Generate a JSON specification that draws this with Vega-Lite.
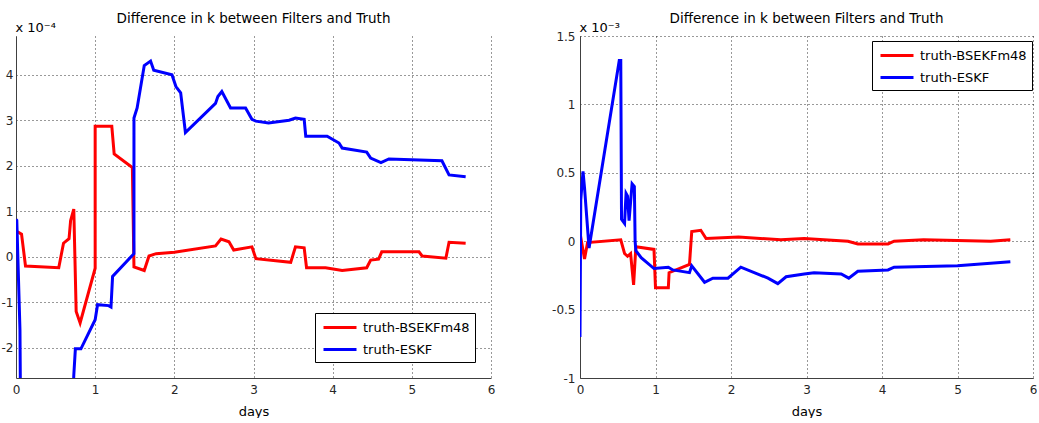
{
  "$schema": "https://vega.github.io/schema/vega-lite/v6.json",
  "padding": {"left": 1, "top": 11, "right": 0, "bottom": 0},
  "autosize": {"type": "pad"},
  "background": "white",
  "spacing": 56,
  "config": {
    "font": "DejaVu Sans",
    "view": {"stroke": null},
    "axis": {
      "labelFont": "DejaVu Sans", "labelFontSize": 12, "labelColor": "#262626",
      "titleFont": "DejaVu Sans", "titleFontSize": 13, "titleFontWeight": "normal", "titleColor": "#000000",
      "domainColor": "#404040", "domainWidth": 1,
      "gridColor": "#000000", "gridDash": [1, 3], "gridOpacity": 0.8, "gridWidth": 1,
      "ticks": false, "tickSize": 0, "labelPadding": 5, "labelFlush": false
    },
    "title": {"font": "DejaVu Sans", "fontSize": 13.5, "fontWeight": "normal", "color": "#000000", "offset": -4},
    "legend": {
      "symbolType": "M-0.75,0H3.375", "symbolSize": 256, "symbolStrokeWidth": 3,
      "labelFont": "DejaVu Sans", "labelFontSize": 13, "labelColor": "#000000", "labelOffset": 24,
      "strokeColor": "#000000", "fillColor": "#ffffff", "padding": 5, "rowPadding": 5, "orient": "none"
    }
  },
  "datasets": {
    "left": [
      {"day": 0.02, "k": 0.55, "series": "truth-BSEKFm48"},
      {"day": 0.07, "k": 0.5, "series": "truth-BSEKFm48"},
      {"day": 0.12, "k": -0.2, "series": "truth-BSEKFm48"},
      {"day": 0.54, "k": -0.24, "series": "truth-BSEKFm48"},
      {"day": 0.6, "k": 0.3, "series": "truth-BSEKFm48"},
      {"day": 0.67, "k": 0.4, "series": "truth-BSEKFm48"},
      {"day": 0.69, "k": 0.8, "series": "truth-BSEKFm48"},
      {"day": 0.73, "k": 1.05, "series": "truth-BSEKFm48"},
      {"day": 0.76, "k": -1.2, "series": "truth-BSEKFm48"},
      {"day": 0.81, "k": -1.45, "series": "truth-BSEKFm48"},
      {"day": 1.0, "k": -0.25, "series": "truth-BSEKFm48"},
      {"day": 1.0, "k": 2.87, "series": "truth-BSEKFm48"},
      {"day": 1.21, "k": 2.87, "series": "truth-BSEKFm48"},
      {"day": 1.24, "k": 2.26, "series": "truth-BSEKFm48"},
      {"day": 1.47, "k": 1.96, "series": "truth-BSEKFm48"},
      {"day": 1.49, "k": -0.22, "series": "truth-BSEKFm48"},
      {"day": 1.62, "k": -0.3, "series": "truth-BSEKFm48"},
      {"day": 1.68, "k": 0.02, "series": "truth-BSEKFm48"},
      {"day": 1.77, "k": 0.07, "series": "truth-BSEKFm48"},
      {"day": 2.0, "k": 0.1, "series": "truth-BSEKFm48"},
      {"day": 2.52, "k": 0.24, "series": "truth-BSEKFm48"},
      {"day": 2.59, "k": 0.39, "series": "truth-BSEKFm48"},
      {"day": 2.69, "k": 0.33, "series": "truth-BSEKFm48"},
      {"day": 2.75, "k": 0.15, "series": "truth-BSEKFm48"},
      {"day": 2.98, "k": 0.22, "series": "truth-BSEKFm48"},
      {"day": 3.03, "k": -0.04, "series": "truth-BSEKFm48"},
      {"day": 3.47, "k": -0.12, "series": "truth-BSEKFm48"},
      {"day": 3.53, "k": 0.22, "series": "truth-BSEKFm48"},
      {"day": 3.64, "k": 0.2, "series": "truth-BSEKFm48"},
      {"day": 3.67, "k": -0.24, "series": "truth-BSEKFm48"},
      {"day": 3.91, "k": -0.24, "series": "truth-BSEKFm48"},
      {"day": 4.12, "k": -0.3, "series": "truth-BSEKFm48"},
      {"day": 4.43, "k": -0.24, "series": "truth-BSEKFm48"},
      {"day": 4.48, "k": -0.07, "series": "truth-BSEKFm48"},
      {"day": 4.58, "k": -0.05, "series": "truth-BSEKFm48"},
      {"day": 4.62, "k": 0.11, "series": "truth-BSEKFm48"},
      {"day": 5.09, "k": 0.11, "series": "truth-BSEKFm48"},
      {"day": 5.13, "k": 0.02, "series": "truth-BSEKFm48"},
      {"day": 5.43, "k": -0.03, "series": "truth-BSEKFm48"},
      {"day": 5.47, "k": 0.32, "series": "truth-BSEKFm48"},
      {"day": 5.68, "k": 0.3, "series": "truth-BSEKFm48"},
      {"day": 0.0, "k": 0.82, "series": "truth-ESKF"},
      {"day": 0.01, "k": 0.8, "series": "truth-ESKF"},
      {"day": 0.05, "k": -1.6, "series": "truth-ESKF"},
      {"day": 0.06, "k": -4.0, "series": "truth-ESKF"},
      {"day": 0.7, "k": -4.0, "series": "truth-ESKF"},
      {"day": 0.73, "k": -2.6, "series": "truth-ESKF"},
      {"day": 0.75, "k": -2.02, "series": "truth-ESKF"},
      {"day": 0.82, "k": -2.02, "series": "truth-ESKF"},
      {"day": 1.0, "k": -1.38, "series": "truth-ESKF"},
      {"day": 1.03, "k": -1.05, "series": "truth-ESKF"},
      {"day": 1.17, "k": -1.07, "series": "truth-ESKF"},
      {"day": 1.2, "k": -1.1, "series": "truth-ESKF"},
      {"day": 1.22, "k": -0.43, "series": "truth-ESKF"},
      {"day": 1.49, "k": 0.07, "series": "truth-ESKF"},
      {"day": 1.49, "k": 3.05, "series": "truth-ESKF"},
      {"day": 1.53, "k": 3.27, "series": "truth-ESKF"},
      {"day": 1.62, "k": 4.2, "series": "truth-ESKF"},
      {"day": 1.7, "k": 4.3, "series": "truth-ESKF"},
      {"day": 1.74, "k": 4.1, "series": "truth-ESKF"},
      {"day": 1.97, "k": 4.0, "series": "truth-ESKF"},
      {"day": 2.02, "k": 3.74, "series": "truth-ESKF"},
      {"day": 2.08, "k": 3.6, "series": "truth-ESKF"},
      {"day": 2.14, "k": 2.73, "series": "truth-ESKF"},
      {"day": 2.52, "k": 3.37, "series": "truth-ESKF"},
      {"day": 2.55, "k": 3.52, "series": "truth-ESKF"},
      {"day": 2.6, "k": 3.63, "series": "truth-ESKF"},
      {"day": 2.71, "k": 3.27, "series": "truth-ESKF"},
      {"day": 2.9, "k": 3.27, "series": "truth-ESKF"},
      {"day": 2.98, "k": 3.02, "series": "truth-ESKF"},
      {"day": 3.03, "k": 2.98, "series": "truth-ESKF"},
      {"day": 3.19, "k": 2.94, "series": "truth-ESKF"},
      {"day": 3.45, "k": 3.0, "series": "truth-ESKF"},
      {"day": 3.53, "k": 3.05, "series": "truth-ESKF"},
      {"day": 3.64, "k": 3.02, "series": "truth-ESKF"},
      {"day": 3.66, "k": 2.65, "series": "truth-ESKF"},
      {"day": 3.93, "k": 2.65, "series": "truth-ESKF"},
      {"day": 4.08, "k": 2.5, "series": "truth-ESKF"},
      {"day": 4.12, "k": 2.39, "series": "truth-ESKF"},
      {"day": 4.43, "k": 2.3, "series": "truth-ESKF"},
      {"day": 4.48, "k": 2.17, "series": "truth-ESKF"},
      {"day": 4.61, "k": 2.07, "series": "truth-ESKF"},
      {"day": 4.71, "k": 2.15, "series": "truth-ESKF"},
      {"day": 5.38, "k": 2.11, "series": "truth-ESKF"},
      {"day": 5.47, "k": 1.8, "series": "truth-ESKF"},
      {"day": 5.68, "k": 1.76, "series": "truth-ESKF"}
    ],
    "right": [
      {"day": 0.0, "k": 0.06, "series": "truth-BSEKFm48"},
      {"day": 0.06, "k": -0.13, "series": "truth-BSEKFm48"},
      {"day": 0.1, "k": -0.01, "series": "truth-BSEKFm48"},
      {"day": 0.54, "k": 0.01, "series": "truth-BSEKFm48"},
      {"day": 0.59, "k": -0.09, "series": "truth-BSEKFm48"},
      {"day": 0.63, "k": -0.11, "series": "truth-BSEKFm48"},
      {"day": 0.67, "k": -0.09, "series": "truth-BSEKFm48"},
      {"day": 0.71, "k": -0.32, "series": "truth-BSEKFm48"},
      {"day": 0.74, "k": -0.04, "series": "truth-BSEKFm48"},
      {"day": 0.98, "k": -0.06, "series": "truth-BSEKFm48"},
      {"day": 1.0, "k": -0.34, "series": "truth-BSEKFm48"},
      {"day": 1.17, "k": -0.34, "series": "truth-BSEKFm48"},
      {"day": 1.18, "k": -0.23, "series": "truth-BSEKFm48"},
      {"day": 1.45, "k": -0.17, "series": "truth-BSEKFm48"},
      {"day": 1.48, "k": 0.07, "series": "truth-BSEKFm48"},
      {"day": 1.6, "k": 0.08, "series": "truth-BSEKFm48"},
      {"day": 1.67, "k": 0.02, "series": "truth-BSEKFm48"},
      {"day": 2.1, "k": 0.03, "series": "truth-BSEKFm48"},
      {"day": 2.66, "k": 0.01, "series": "truth-BSEKFm48"},
      {"day": 2.97, "k": 0.02, "series": "truth-BSEKFm48"},
      {"day": 3.55, "k": 0.0, "series": "truth-BSEKFm48"},
      {"day": 3.68, "k": -0.02, "series": "truth-BSEKFm48"},
      {"day": 4.08, "k": -0.02, "series": "truth-BSEKFm48"},
      {"day": 4.16, "k": 0.0, "series": "truth-BSEKFm48"},
      {"day": 4.55, "k": 0.01, "series": "truth-BSEKFm48"},
      {"day": 5.44, "k": 0.0, "series": "truth-BSEKFm48"},
      {"day": 5.7, "k": 0.01, "series": "truth-BSEKFm48"},
      {"day": 0.0, "k": -0.7, "series": "truth-ESKF"},
      {"day": 0.01, "k": 0.3, "series": "truth-ESKF"},
      {"day": 0.04, "k": 0.51, "series": "truth-ESKF"},
      {"day": 0.06, "k": 0.39, "series": "truth-ESKF"},
      {"day": 0.12, "k": -0.05, "series": "truth-ESKF"},
      {"day": 0.52, "k": 1.32, "series": "truth-ESKF"},
      {"day": 0.54, "k": 1.32, "series": "truth-ESKF"},
      {"day": 0.55, "k": 0.16, "series": "truth-ESKF"},
      {"day": 0.59, "k": 0.13, "series": "truth-ESKF"},
      {"day": 0.61, "k": 0.35, "series": "truth-ESKF"},
      {"day": 0.63, "k": 0.33, "series": "truth-ESKF"},
      {"day": 0.65, "k": 0.15, "series": "truth-ESKF"},
      {"day": 0.69, "k": 0.42, "series": "truth-ESKF"},
      {"day": 0.72, "k": 0.4, "series": "truth-ESKF"},
      {"day": 0.73, "k": 0.0, "series": "truth-ESKF"},
      {"day": 0.74, "k": -0.07, "series": "truth-ESKF"},
      {"day": 0.81, "k": -0.12, "series": "truth-ESKF"},
      {"day": 0.98, "k": -0.2, "series": "truth-ESKF"},
      {"day": 1.17, "k": -0.19, "series": "truth-ESKF"},
      {"day": 1.23, "k": -0.21, "series": "truth-ESKF"},
      {"day": 1.45, "k": -0.23, "series": "truth-ESKF"},
      {"day": 1.48, "k": -0.18, "series": "truth-ESKF"},
      {"day": 1.65, "k": -0.3, "series": "truth-ESKF"},
      {"day": 1.76, "k": -0.27, "series": "truth-ESKF"},
      {"day": 1.96, "k": -0.27, "series": "truth-ESKF"},
      {"day": 2.13, "k": -0.19, "series": "truth-ESKF"},
      {"day": 2.49, "k": -0.27, "series": "truth-ESKF"},
      {"day": 2.62, "k": -0.31, "series": "truth-ESKF"},
      {"day": 2.73, "k": -0.26, "series": "truth-ESKF"},
      {"day": 2.97, "k": -0.24, "series": "truth-ESKF"},
      {"day": 3.1, "k": -0.23, "series": "truth-ESKF"},
      {"day": 3.46, "k": -0.24, "series": "truth-ESKF"},
      {"day": 3.56, "k": -0.27, "series": "truth-ESKF"},
      {"day": 3.68, "k": -0.22, "series": "truth-ESKF"},
      {"day": 4.08, "k": -0.21, "series": "truth-ESKF"},
      {"day": 4.16, "k": -0.19, "series": "truth-ESKF"},
      {"day": 5.0, "k": -0.18, "series": "truth-ESKF"},
      {"day": 5.7, "k": -0.15, "series": "truth-ESKF"}
    ]
  },
  "resolve": {"scale": {"color": "independent", "y": "independent", "x": "independent"}, "legend": {"color": "independent"}},
  "hconcat": [
    {
      "width": 475, "height": 342,
      "title": {"text": "Difference in k between Filters and Truth"},
      "data": {"name": "left"},
      "mark": {"type": "line", "strokeWidth": 3, "clip": true},
      "encoding": {
        "x": {"field": "day", "type": "quantitative", "scale": {"domain": [0, 6], "nice": false, "zero": false},
              "axis": {"title": "days", "values": [0, 1, 2, 3, 4, 5, 6], "grid": true, "titlePadding": 10, "labelPadding": 6}},
        "y": {"field": "k", "type": "quantitative", "scale": {"domain": [-2.66, 4.85], "nice": false, "zero": false},
              "axis": {"title": "x 10⁻⁴", "titleAngle": 0, "titleAlign": "left", "titleBaseline": "alphabetic", "titleX": -1, "titleY": -5,
                       "values": [-2, -1, 0, 1, 2, 3, 4], "labelExpr": "'' + datum.value", "grid": true, "labelPadding": 3}},
        "color": {"field": "series", "type": "nominal",
                  "scale": {"domain": ["truth-BSEKFm48", "truth-ESKF"], "range": ["#ff0000", "#0000ff"]},
                  "legend": {"title": null, "legendX": 299, "legendY": 277}},
        "order": {"value": null}
      }
    },
    {
      "width": 453, "height": 342,
      "title": {"text": "Difference in k between Filters and Truth"},
      "data": {"name": "right"},
      "mark": {"type": "line", "strokeWidth": 3, "clip": true},
      "encoding": {
        "x": {"field": "day", "type": "quantitative", "scale": {"domain": [0, 6], "nice": false, "zero": false},
              "axis": {"title": "days", "values": [0, 1, 2, 3, 4, 5, 6], "grid": true, "titlePadding": 10, "labelPadding": 6}},
        "y": {"field": "k", "type": "quantitative", "scale": {"domain": [-1, 1.5], "nice": false, "zero": false},
              "axis": {"title": "x 10⁻³", "titleAngle": 0, "titleAlign": "left", "titleBaseline": "alphabetic", "titleX": -1, "titleY": -5,
                       "values": [-1, -0.5, 0, 0.5, 1, 1.5], "labelExpr": "'' + datum.value", "grid": true}},
        "color": {"field": "series", "type": "nominal",
                  "scale": {"domain": ["truth-BSEKFm48", "truth-ESKF"], "range": ["#ff0000", "#0000ff"]},
                  "legend": {"title": null, "legendX": 292, "legendY": 5}},
        "order": {"value": null}
      }
    }
  ]
}
